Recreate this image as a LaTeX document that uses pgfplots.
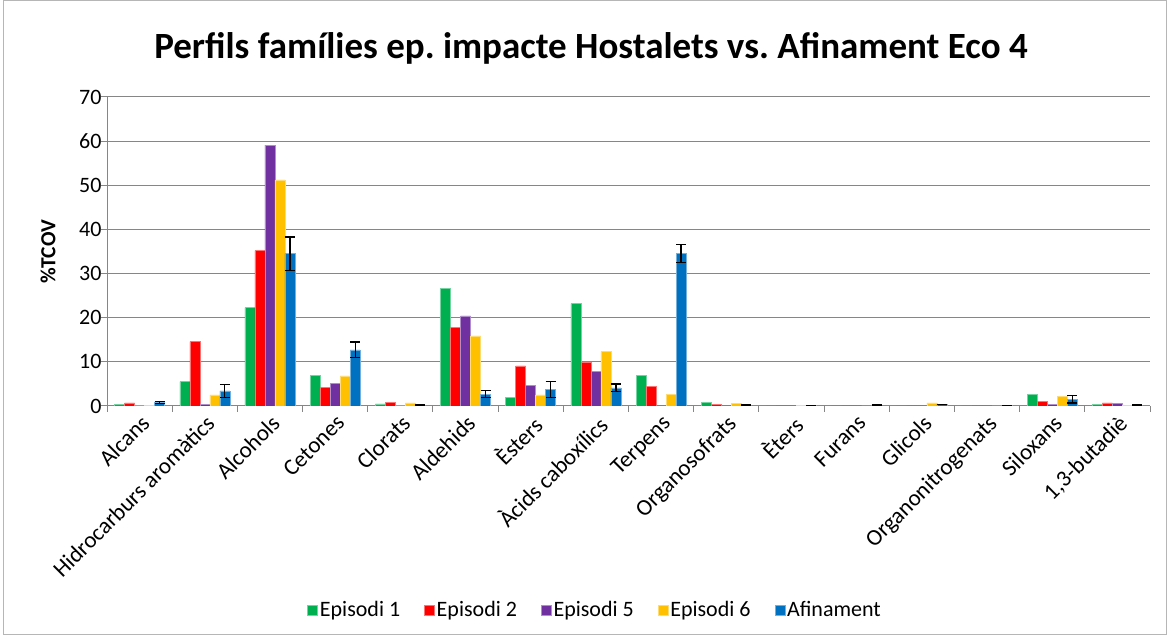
\documentclass[border=0pt]{standalone}
\usepackage{pgfplots}
\pgfplotsset{compat=1.18}
\usepackage{pgfplotstable}
\usepackage{fontspec}
\setmainfont{Carlito}
\definecolor{cEa}{HTML}{00B050}
\definecolor{cEb}{HTML}{FF0000}
\definecolor{cEc}{HTML}{7030A0}
\definecolor{cEd}{HTML}{FFC000}
\definecolor{cAf}{HTML}{0070C0}
\definecolor{gridc}{HTML}{868686}

\pgfplotstableread{
x  e1    e2    e5    e6    af    afe
0  0.35  0.7   0.2   0.2   0.8   0.25
1  5.5   14.6  0.4   2.5   3.4   1.5
2  22.3  35.2  59.1  51.2  34.5  3.8
3  6.9   4.2   5.1   6.8   12.7  1.8
4  0.5   0.9   0.2   0.7   0.2   0.05
5  26.7  17.8  20.4  15.9  2.7   0.8
6  1.9   9.1   4.6   2.5   3.7   1.8
7  23.2  9.8   7.8   12.3  4.1   0.9
8  6.9   4.4   0     2.6   34.5  2.0
9  0.9   0.45  0     0.6   0.2   0.05
10 0     0     0     0.15  0.1   0.02
11 0     0     0     0     0.2   0.05
12 0     0     0     0.7   0.35  0.05
13 0     0     0     0     0.1   0.02
14 2.7   1.1   0.4   2.1   1.5   0.8
15 0.45  0.7   0.6   0.15  0.2   0.05
}\data

\begin{document}
\frenchspacing
\begin{tikzpicture}
\useasboundingbox (0,0) rectangle (1167pt,636pt);
\draw[color=gridc!60, line width=1pt] (3pt,1pt) rectangle (1166pt,635pt);
\begin{axis}[
  at={(107pt,230pt)}, anchor=south west,
  scale only axis, width=1043pt, height=309pt,
  xmin=-0.5, xmax=15.5, ymin=0, ymax=70,
  ybar=0pt, bar width=10pt,
  axis x line=bottom, axis y line=left,
  axis line style={gridc, line width=1pt, -},
  ytick={0,10,...,70},
  ymajorgrids, grid style={gridc, line width=1pt},
  tick align=outside, major tick length=6pt, minor tick length=6pt,
  tick style={gridc, line width=1pt},
  xtick={0,...,15},
  major x tick style={draw=none},
  minor xtick={-0.5,0.5,...,15.5},
  xticklabels={Alcans,Hidrocarburs aromàtics,Alcohols,Cetones,Clorats,Aldehids,Èsters,Àcids caboxílics,Terpens,Organosofrats,Èters,Furans,Glicols,Organonitrogenats,Siloxans,{1,3-butadiè}},
  xticklabel style={rotate=45, anchor=north east, font=\fontsize{23}{26}\selectfont, inner sep=1pt},
  yticklabel style={font=\fontsize{22}{25}\selectfont, xshift=4pt},
  /pgf/number format/assume math mode=true,
  legend style={at={(0.468,-0.66)}, anchor=center, draw=none, legend columns=5,
    font=\fontsize{22}{25}\selectfont,
    /tikz/every even column/.append style={column sep=22pt}},
  legend image code/.code={\path[#1] (0pt,-5pt) rectangle (10pt,5pt);},
]
\addplot[fill=cEa, draw=cEa!55!white, line width=0.5pt] table[x=x, y=e1] {\data};
\addplot[fill=cEb, draw=cEb!55!white, line width=0.5pt] table[x=x, y=e2] {\data};
\addplot[fill=cEc, draw=cEc!55!white, line width=0.5pt] table[x=x, y=e5] {\data};
\addplot[fill=cEd, draw=cEd!55!white, line width=0.5pt] table[x=x, y=e6] {\data};
\addplot[fill=cAf, draw=cAf!55!white, line width=0.5pt,
  error bars/.cd, y dir=both, y explicit,
  error bar style={draw=black, line width=1.2pt},
  error mark=|,
  error mark options={draw=black, color=black, line width=1.2pt, mark size=5pt}]
  table[x=x, y=af, y error=afe] {\data};
\legend{Episodi 1, Episodi 2, Episodi 5, Episodi 6, Afinament}
\end{axis}
\node[rotate=90, font=\fontsize{21.5}{24}\selectfont\bfseries] at (48pt,384pt) {\%TCOV};
\node[font=\fontsize{37}{42}\selectfont\bfseries] at (591pt,588pt) {Perfils famílies ep. impacte Hostalets vs. Afinament Eco 4};
\end{tikzpicture}
\end{document}
